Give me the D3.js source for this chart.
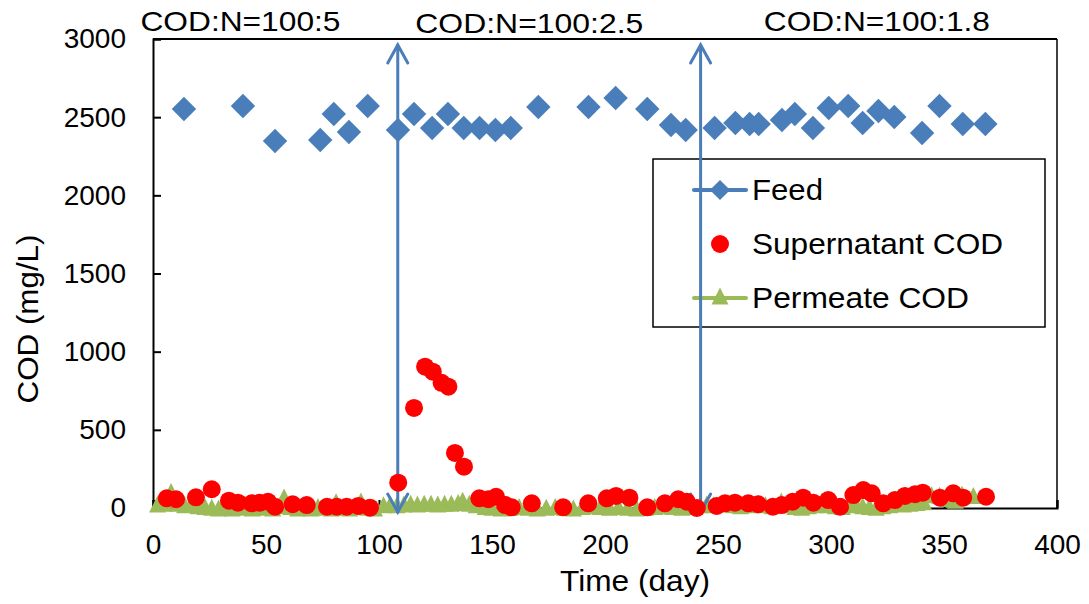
<!DOCTYPE html>
<html><head><meta charset="utf-8">
<script src="https://cdn.jsdelivr.net/npm/d3@7"></script>
<style>body{margin:0;background:#fff}svg{display:block;font-family:"Liberation Sans",Arial,sans-serif}</style>
</head><body><svg id="c" width="1089" height="604"></svg>
<script>
const xTicks=[0,50,100,150,200,250,300,350,400];
const yTicks=[0,500,1000,1500,2000,2500,3000];
const feedDays=[13.7,39.8,54,74,80,86.7,95,108.4,115.5,123.5,130.5,137.5,144.5,151.5,158.3,170.5,192.7,204.7,218.7,229.2,235.7,248.5,257.7,264,268,278.3,284,292,299,307.6,314,321,328,340.3,348,358.3,368.3];
const feedVals=[2552,2571,2348,2354,2520,2405,2571,2418,2520,2431,2520,2431,2431,2418,2431,2565,2565,2623,2552,2450,2418,2431,2463,2456,2456,2482,2520,2431,2559,2571,2463,2539,2501,2399,2571,2456,2456];
const superDays=[6.1,10.2,19,26,33.6,37.6,43.7,47.3,50.9,54,61.8,68,77,81.3,85.7,90.8,96,108.5,115.5,120.4,123.8,127.7,130.7,133.6,137.6,144.4,148.4,151.8,155.8,158.7,167.6,181.5,192.6,200.8,204.9,210.8,218.7,226.5,232.4,236.2,240.6,249.4,253.1,257.5,263.4,267.7,274.3,278.2,283,287.7,292.2,298.8,304,309.9,314.3,318,323.1,328.3,332.7,337.2,340.6,348.2,354.1,358.5,368.6];
const superVals=[62,56,68,120,47,34,30,34,40,8,24,19,8,8,8,13,2,162,640,904,872,801,776,352,264,62,56,72,19,4,30,4,30,62,77,66,4,30,56,40,0,13,30,34,30,24,8,19,40,66,34,51,8,83,115,94,30,51,77,88,98,66,94,66,72];
const permDays=[2,5,8,11,14,17,20,23,26,29,32,35,38,41,44,47,50,53,56,58,61,64,67,70,73,76,79,81,84,87,90,92,95,98,102,105,108,111,114,117,120,123,126,129,132,135,137,140,143,147,150,154,158,162,166,170,174,178,182,186,190,194,198,202,206,210,214,218,222,226,230,234,238,242,245,248,251,254,257,260,264,268,271,274,278,281,284,287,290,293,296,299,302,305,308,311,314,317,320,323,326,329,332,335,338,341,344.5,348,352,355,358,363];
const permVals=[25,30,105,30,20,25,15,10,5,0,5,0,10,5,0,10,5,0,15,70,10,0,5,0,10,5,0,40,5,0,10,45,5,0,20,25,20,25,30,25,30,30,25,30,30,35,50,30,20,10,5,0,5,10,5,0,5,10,5,0,10,15,10,5,10,5,0,5,10,15,10,5,10,20,25,20,25,30,20,15,20,30,20,15,45,20,10,5,15,20,45,20,15,10,20,25,15,10,5,15,20,30,25,30,35,40,85,82,60,50,88,80];
const phaseLabels=["COD:N=100:5","COD:N=100:2.5","COD:N=100:1.8"];
const phaseLabelDays=[38.7,166.5,320.3];
const phaseLabelVals=[3050,3037,3050];
const arrowDays=[108.3,242.3];
const arrowTop=2962, arrowBottom=-26;
const legendNames=["Feed","Supernatant COD","Permeate COD"];

const blue="#4A7EBB", red="#FF0000", green="#9BBB59";
const svg=d3.select("#c");
const L=153,R=1057,T=39,B=508;
const x=d3.scaleLinear().domain([0,400]).range([L,R]);
const y=d3.scaleLinear().domain([0,3000]).range([B,T]);

// frame
svg.append("line").attr("x1",L).attr("x2",R).attr("y1",T).attr("y2",T).attr("stroke","#000").attr("stroke-width",2);
svg.append("line").attr("x1",R).attr("x2",R).attr("y1",T).attr("y2",B).attr("stroke","#000").attr("stroke-width",1.5);

// axes
const ya=svg.append("g").attr("transform",`translate(${L},0)`).call(d3.axisLeft(y).tickValues(yTicks).tickSize(-8).tickPadding(27).tickFormat(d3.format("d")));
const xa=svg.append("g").attr("transform",`translate(0,${B})`).call(d3.axisBottom(x).tickValues(xTicks).tickSize(-8).tickPadding(26).tickFormat(d3.format("d")));
[ya,xa].forEach(g=>{g.select(".domain").attr("stroke","#000").attr("stroke-width",2);g.selectAll(".tick line").attr("stroke","#000").attr("stroke-width",2);g.selectAll("text").attr("font-size",28).attr("fill","#000").attr("font-family","Liberation Sans, Arial, sans-serif");});

// titles
svg.append("text").attr("x",635).attr("y",591).attr("text-anchor","middle").attr("font-size",30).attr("textLength",150).attr("lengthAdjust","spacingAndGlyphs").text("Time (day)");
svg.append("text").attr("transform","translate(38,319) rotate(-90)").attr("text-anchor","middle").attr("font-size",30).attr("textLength",169).attr("lengthAdjust","spacingAndGlyphs").text("COD (mg/L)");

// legend box
const lg=svg.append("g");
lg.append("rect").attr("x",653).attr("y",159).attr("width",392).attr("height",168).attr("fill","#fff").attr("stroke","#000").attr("stroke-width",1.5);
const ly=[190,244,298];
const legLen=[71,251,217];
lg.append("line").attr("x1",694).attr("x2",746).attr("y1",ly[0]).attr("y2",ly[0]).attr("stroke",blue).attr("stroke-width",4).attr("stroke-linecap","round");
lg.append("path").attr("d",d3.symbol(d3.symbolDiamond2,260)()).attr("transform",`translate(720,${ly[0]})`).attr("fill",blue);
lg.append("circle").attr("cx",720).attr("cy",ly[1]).attr("r",9).attr("fill",red);
lg.append("line").attr("x1",694).attr("x2",746).attr("y1",ly[2]).attr("y2",ly[2]).attr("stroke",green).attr("stroke-width",4).attr("stroke-linecap","round");
lg.append("path").attr("d","M0,-8.5L8.5,8.5L-8.5,8.5Z").attr("transform",`translate(720,${ly[2]-2})`).attr("fill",green);
legendNames.forEach((n,i)=>lg.append("text").attr("x",752).attr("y",ly[i]+10).attr("font-size",30).attr("textLength",legLen[i]).attr("lengthAdjust","spacingAndGlyphs").text(n));

// permeate
const tri="M0,-8.5L8.5,8.5L-8.5,8.5Z";
svg.append("g").selectAll("path").data(permDays).join("path").attr("d",tri)
  .attr("transform",(d,i)=>`translate(${x(d)},${y(permVals[i])})`).attr("fill",green);

// arrows
arrowDays.forEach(d=>{
  const g=svg.append("g").attr("stroke",blue).attr("stroke-width",3).attr("fill","none").attr("stroke-linecap","round");
  const ax=x(d), t=y(arrowTop), b=y(arrowBottom);
  g.append("line").attr("x1",ax).attr("x2",ax).attr("y1",t).attr("y2",b);
  g.append("path").attr("d",`M${ax-10},${t+18}L${ax},${t}L${ax+10},${t+18}`);
  g.append("path").attr("d",`M${ax-10},${b-18}L${ax},${b}L${ax+10},${b-18}`);
});

// supernatant
svg.append("g").selectAll("circle").data(superDays).join("circle")
  .attr("cx",d=>x(d)).attr("cy",(d,i)=>y(superVals[i])).attr("r",9).attr("fill",red);

// feed
const dia=d3.symbol(d3.symbolDiamond2,380)();
svg.append("g").selectAll("path").data(feedDays).join("path").attr("d",dia)
  .attr("transform",(d,i)=>`translate(${x(d)},${y(feedVals[i])})`).attr("fill",blue);

// phase labels
const phaseLen=[200,228,226];
phaseLabels.forEach((t,i)=>svg.append("text").attr("x",x(phaseLabelDays[i])).attr("y",y(phaseLabelVals[i])).attr("text-anchor","middle").attr("font-size",28).attr("textLength",phaseLen[i]).attr("lengthAdjust","spacingAndGlyphs").text(t));
</script></body></html>
